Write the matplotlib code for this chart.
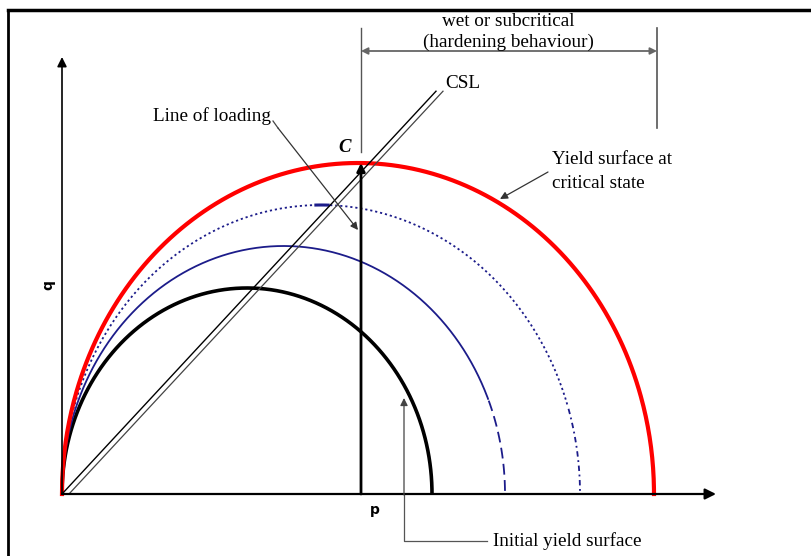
import numpy as np
import matplotlib.pyplot as plt

# Yield surfaces (ellipses through the origin): end point on p axis and peak q
surf_names = ['initial', 'intermediate', 'intermediate2', 'critical']
p_end = [370, 443, 518, 592]
q_peak = [206, 248, 289, 331]

# critical state line slope and loading path position
csl_m = 1.077
p_load = 299

serif = 'Liberation Serif'
navy = '#1c1c8a'
fs = 13.8

fig = plt.figure(figsize=(8.11, 5.56), dpi=100)
ax = fig.add_axes([0, 0, 1, 1])
ax.set_xlim(-62, 749)
ax.set_ylim(-62, 494)
ax.axis('off')


def ellipse(pe, qp, n=400):
    t = np.linspace(0, np.pi, n)
    a = pe / 2
    return a * (1 - np.cos(t)), qp * np.sin(t)


# initial yield surface - thick black
p, q = ellipse(p_end[0], q_peak[0])
ax.plot(p, q, color='black', lw=2.6, solid_capstyle='butt')

# intermediate surface - solid then dashed near the end
p, q = ellipse(p_end[1], q_peak[1])
low = (p > p_end[1] / 2) & (q < 94)
ax.plot(p[~low], q[~low], color=navy, lw=1.3)
ax.plot(p[low], q[low], color=navy, lw=1.3, dashes=(6, 3))

# second intermediate surface - dotted, dash-dot near the end
p, q = ellipse(p_end[2], q_peak[2])
low = (p > p_end[2] / 2) & (q < 87)
ax.plot(p[~low], q[~low], color=navy, lw=1.3, dashes=(1.2, 1.6))
ax.plot(p[low], q[low], color=navy, lw=1.3, dashes=(3, 2, 1, 2))
seg = (p > 252) & (p < 268)
ax.plot(p[seg], q[seg], color=navy, lw=2.2)

# critical state yield surface - thick red
p, q = ellipse(p_end[3], q_peak[3])
ax.plot(p, q, color='#ff0000', lw=3)

# CSL double line
csl_p = np.array([0, 374])
ax.plot(csl_p, csl_m * csl_p, color='black', lw=1)
ax.plot(csl_p + 7, csl_m * csl_p, color='#444444', lw=0.9)
ax.text(383, 410, 'CSL', fontsize=fs, family=serif, va='center', ha='left')

# axes arrows
ax.annotate('', xy=(0, 437), xytext=(0, 0),
            arrowprops=dict(arrowstyle='-|>', color='black', lw=1.2,
                            mutation_scale=14, shrinkA=0, shrinkB=0))
ax.annotate('', xy=(654, 0), xytext=(0, 0),
            arrowprops=dict(arrowstyle='-|>', color='black', lw=1.6,
                            mutation_scale=16, shrinkA=0, shrinkB=0))
ax.text(-14, 209, 'q', fontsize=10, fontweight='bold', rotation=90,
        ha='center', va='center')
ax.text(313, -16, 'p', fontsize=10, fontweight='bold', ha='center', va='center')

# loading path
ax.annotate('', xy=(p_load, 331), xytext=(p_load, 0),
            arrowprops=dict(arrowstyle='-|>', color='black', lw=2,
                            mutation_scale=12, shrinkA=0, shrinkB=0))
ax.text(283, 347, 'C', fontsize=13.5, family=serif, style='italic',
        fontweight='bold', ha='center', va='center')

# wet / subcritical region marker
ax.plot([p_load, p_load], [342, 466], color='#555555', lw=1)
ax.plot([595, 595], [366, 466], color='#555555', lw=1.2)
ax.annotate('', xy=(595, 443), xytext=(p_load, 443),
            arrowprops=dict(arrowstyle='<|-|>', color='#666666', lw=1.3,
                            mutation_scale=10, shrinkA=0, shrinkB=0))
ax.text(446, 468, 'wet or subcritical', fontsize=fs, family=serif,
        ha='center', va='baseline')
ax.text(446, 447, '(hardening behaviour)', fontsize=fs, family=serif,
        ha='center', va='baseline')

# line of loading label
ax.text(91, 378, 'Line of loading', fontsize=fs, family=serif,
        ha='left', va='center')
ax.plot([211, 216], [373, 366], color='#444444', lw=0.9)
ax.annotate('', xy=(296, 264), xytext=(216, 366),
            arrowprops=dict(arrowstyle='-|>', color='#333333', lw=0.9,
                            mutation_scale=11, shrinkA=0, shrinkB=0))

# critical state surface label
ax.text(490, 334, 'Yield surface at', fontsize=fs, family=serif,
        ha='left', va='center')
ax.text(490, 310, 'critical state', fontsize=fs, family=serif,
        ha='left', va='center')
ax.annotate('', xy=(438, 295), xytext=(486, 322),
            arrowprops=dict(arrowstyle='-|>', color='#333333', lw=0.9,
                            mutation_scale=11, shrinkA=0, shrinkB=0))

# initial yield surface label
ax.text(431, -47, 'Initial yield surface', fontsize=fs, family=serif,
        ha='left', va='center')
ax.plot([425, 342, 342], [-47, -47, 0], color='#555555', lw=0.9)
ax.annotate('', xy=(342, 96), xytext=(342, -1),
            arrowprops=dict(arrowstyle='-|>', color='#444444', lw=0.9,
                            mutation_scale=11, shrinkA=0, shrinkB=0))

# frame
ax.plot([-54, 749], [484, 484], color='black', lw=2.5)
ax.plot([-54, -54], [484, -62], color='black', lw=2)

fig.savefig('out.png', dpi=100)
